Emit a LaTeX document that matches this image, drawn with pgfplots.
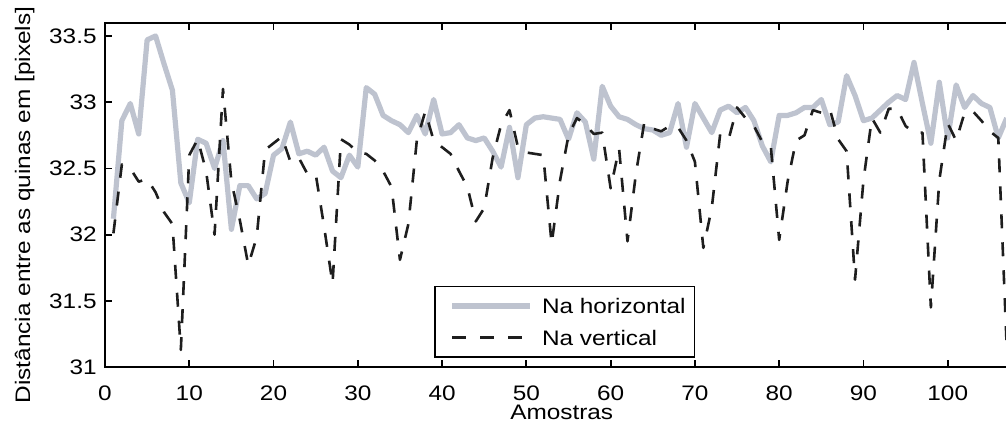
\documentclass[border=0pt]{standalone}
\usepackage{fontspec}
\setmainfont{Liberation Sans}[FakeStretch=1.16]
\usepackage{pgfplots}
\pgfplotsset{compat=1.18}
\usepackage{pgfplotstable}
\definecolor{hgray}{RGB}{190,195,207}
\definecolor{vdark}{RGB}{30,30,30}

\pgfplotstableread{
x y
1 32.12
2 32.86
3 32.99
4 32.76
5 33.47
6 33.50
7 33.29
8 33.09
9 32.39
10 32.24
11 32.72
12 32.69
13 32.50
14 32.71
15 32.04
16 32.37
17 32.37
18 32.27
19 32.31
20 32.60
21 32.65
22 32.85
23 32.61
24 32.63
25 32.60
26 32.66
27 32.48
28 32.43
29 32.60
30 32.51
31 33.11
32 33.06
33 32.90
34 32.86
35 32.83
36 32.77
37 32.90
38 32.76
39 33.02
40 32.76
41 32.77
42 32.83
43 32.73
44 32.71
45 32.73
46 32.63
47 32.51
48 32.81
49 32.43
50 32.83
51 32.88
52 32.89
53 32.88
54 32.87
55 32.72
56 32.92
57 32.85
58 32.57
59 33.12
60 32.97
61 32.89
62 32.87
63 32.83
64 32.80
65 32.79
66 32.75
67 32.77
68 32.99
69 32.66
70 32.99
71 32.88
72 32.77
73 32.94
74 32.97
75 32.92
76 32.96
77 32.86
78 32.67
79 32.55
80 32.90
81 32.90
82 32.92
83 32.96
84 32.96
85 33.02
86 32.83
87 32.85
88 33.20
89 33.05
90 32.86
91 32.88
92 32.94
93 33.00
94 33.05
95 33.02
96 33.30
97 32.99
98 32.69
99 33.15
100 32.73
101 33.13
102 32.96
103 33.05
104 32.99
105 32.96
106 32.73
107 32.88
}\horiz

\pgfplotstableread{
x y
1 32.01
2 32.53
3 32.50
4 32.40
5 32.42
6 32.32
7 32.17
8 32.08
9 31.13
10 32.60
11 32.72
12 32.48
13 32.00
14 33.10
15 32.40
16 32.11
17 31.77
18 31.98
19 32.64
20 32.69
21 32.74
22 32.55
23 32.58
24 32.46
25 32.46
26 32.06
27 31.63
28 32.72
29 32.68
30 32.62
31 32.61
32 32.56
33 32.48
34 32.36
35 31.81
36 32.08
37 32.71
38 32.93
39 32.71
40 32.66
41 32.61
42 32.48
43 32.36
44 32.10
45 32.20
46 32.58
47 32.83
48 32.94
49 32.66
50 32.62
51 32.61
52 32.60
53 31.93
54 32.41
55 32.75
56 32.88
57 32.83
58 32.76
59 32.77
60 32.35
61 32.65
62 31.95
63 32.46
64 32.85
65 32.80
66 32.78
67 32.82
68 32.81
69 32.71
70 32.55
71 31.90
72 32.20
73 32.76
74 32.72
75 32.96
76 32.88
77 32.82
78 32.70
79 32.67
80 31.96
81 32.40
82 32.71
83 32.75
84 32.94
85 32.92
86 32.95
87 32.72
88 32.63
89 31.66
90 32.41
91 32.88
92 32.77
93 32.95
94 32.95
95 32.82
96 32.77
97 32.77
98 31.45
99 32.41
100 32.84
101 32.71
102 32.92
103 32.93
104 32.86
105 32.78
106 32.73
107 31.15
}\vert

\begin{document}
\fontsize{10.5}{12.6}\selectfont
\begin{tikzpicture}
\begin{axis}[
  scale only axis,
  width=463.5pt, height=172.2pt,
  xmin=0, xmax=110, ymin=31, ymax=33.6,
  xtick={0,10,...,100},
  ytick={31,31.5,32,32.5,33,33.5},
  yticklabels={31,31.5,32,32.5,33,33.5},
  tick align=inside,
  major tick length=3.5pt,
  axis line style={line width=0.9pt, black},
  every tick/.style={line width=0.9pt, black},
  /pgf/number format/assume math mode=true,
  tick label style={font=\fontsize{10.5}{12.6}\selectfont},
  xticklabel style={inner sep=0pt, anchor=north, yshift=-9pt},
  yticklabel style={inner sep=0pt, anchor=east, xshift=-4pt},
  xlabel={Amostras},
  xlabel style={at={(axis description cs:0.4927,-0.1103)}, anchor=north, inner sep=0pt},
  ylabel={Distância entre as quinas em [pixels]},
  ylabel style={at={(axis description cs:-0.0976,0.4705)}, anchor=north, inner sep=0pt},
  legend image code/.code={%
    \path (0pt,0pt) (46.5pt,0pt);
    \draw[#1] (7.5pt,0pt) -- (46.5pt,0pt);},
  legend style={
    at={(axis cs:39.03,31.07)}, anchor=south west,
    draw=black, line width=0.9pt, fill=white,
    inner xsep=0pt, inner ysep=1.8pt, row sep=0pt,
    font=\fontsize{10.5}{12.6}\selectfont,
    nodes={inner xsep=4.5pt, inner ysep=4.1pt, text height=7.6pt, text depth=0pt},
  },
  legend cell align=left,
]
\addplot[hgray, line width=2.6pt, line join=round] table {\horiz};
\addlegendentry{Na horizontal}
\addplot[vdark, line width=1.3pt, dash pattern=on 7pt off 7pt, line join=round] table {\vert};
\addlegendentry{Na vertical}
\end{axis}
\pgfresetboundingbox
\useasboundingbox ([xshift=-52.5pt,yshift=-30pt]current axis.south west) rectangle ([xshift=450.5pt,yshift=11.35pt]current axis.north west);
\end{tikzpicture}
\end{document}
